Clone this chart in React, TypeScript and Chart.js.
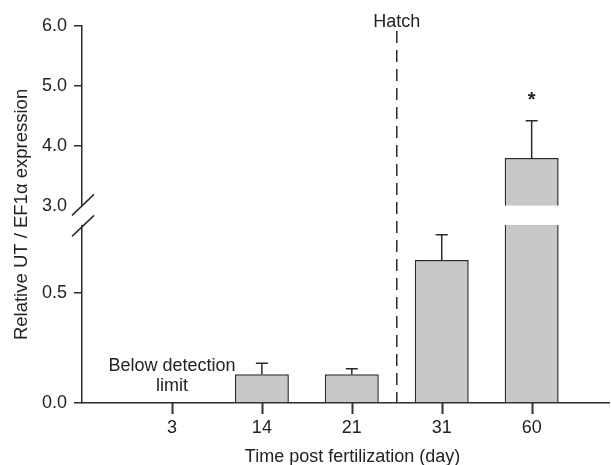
import React, { useEffect, useRef } from 'react';
import { Chart, registerables } from 'chart.js';

Chart.register(...registerables);

// ---- data ----
const days: string[] = ['3', '14', '21', '31', '60'];
const means: (number | null)[] = [null, 0.13, 0.13, 0.65, 3.8];
const errorsUp: (number | null)[] = [null, 0.05, 0.025, 0.115, 0.62];
const significant: boolean[] = [false, false, false, false, true];
const lowTicks: number[] = [0, 0.5];
const highTicks: number[] = [3, 4, 5, 6];
const lowRange: number[] = [0, 0.81];
const highRange: number[] = [2.683, 6];
const breakValue = 3.0;
const hatchBetween: number[] = [2, 3]; // between day 21 and day 31 (indices)
const belowLimitIndex = 0;

const FONT = '"Liberation Sans", Arial, Helvetica, sans-serif';
const INK = '#222222';
const LINE = '#2b2b2b';

const lowData = means
  .map((m, i) => (m == null ? null : { x: i + 1, y: Math.min(m, lowRange[1]) }))
  .filter((p) => p !== null);
const highData = means
  .map((m, i) => (m != null && m > lowRange[1] ? { x: i + 1, y: [breakValue, m] } : null))
  .filter((p) => p !== null);

const decor = {
  id: 'decor',
  afterDraw(chart: any) {
    const { ctx, chartArea, scales } = chart;
    const x = scales.x;
    const yL = scales.yLow;
    const yH = scales.yHigh;
    ctx.save();
    ctx.strokeStyle = LINE;
    ctx.fillStyle = INK;
    ctx.lineWidth = 1.5;

    // x tick marks
    const axisY = x.top;
    ctx.beginPath();
    for (let i = 0; i < days.length; i++) {
      const px = Math.round(x.getPixelForValue(i + 1)) + 0.5;
      ctx.moveTo(px, axisY);
      ctx.lineTo(px, axisY + 11);
    }
    ctx.lineWidth = 2;
    ctx.strokeStyle = '#333333';
    ctx.stroke();
    ctx.lineWidth = 1.5;
    ctx.strokeStyle = LINE;

    // error bars + significance
    means.forEach((m, i) => {
      if (m == null) return;
      const top = m + (errorsUp[i] || 0);
      const s = m > lowRange[1] ? yH : yL;
      const px = x.getPixelForValue(i + 1);
      const y0 = s.getPixelForValue(m);
      const y1 = s.getPixelForValue(top);
      ctx.beginPath();
      ctx.moveTo(px, y0);
      ctx.lineTo(px, y1);
      ctx.moveTo(px - 6, y1);
      ctx.lineTo(px + 6, y1);
      ctx.stroke();
      if (significant[i]) {
        ctx.font = `bold 20px ${FONT}`;
        ctx.textAlign = 'center';
        ctx.textBaseline = 'middle';
        ctx.fillStyle = INK;
        ctx.fillText('*', px, y1 - 20);
      }
    });

    // axis break
    const ax = chartArea.left;
    const yTop = yH.getPixelForValue(breakValue);
    const yBot = yL.top;
    ctx.fillStyle = '#ffffff';
    ctx.fillRect(ax - 3, yTop, 6, yBot - yTop);
    ctx.beginPath();
    [yTop - 1, yBot + 1].forEach((yy) => {
      ctx.moveTo(ax - 10, yy + 10.5);
      ctx.lineTo(ax + 12, yy - 10.5);
    });
    ctx.stroke();

    // hatch line
    const hx = x.getPixelForValue((hatchBetween[0] + hatchBetween[1]) / 2 + 1);
    ctx.setLineDash([12, 7]);
    ctx.beginPath();
    ctx.moveTo(hx, chartArea.top + 5);
    ctx.lineTo(hx, chartArea.bottom);
    ctx.stroke();
    ctx.setLineDash([]);

    ctx.fillStyle = INK;
    ctx.font = `18px ${FONT}`;
    ctx.textAlign = 'center';
    ctx.textBaseline = 'middle';
    ctx.fillText('Hatch', hx, chartArea.top - 4);

    // below detection limit
    const bx = x.getPixelForValue(belowLimitIndex + 1);
    ctx.fillText('Below detection', bx, chartArea.bottom - 37);
    ctx.fillText('limit', bx, chartArea.bottom - 17);

    // axis titles
    ctx.fillText('Time post fertilization (day)', (chartArea.left + chartArea.right) / 2 + 7, 457);
    ctx.save();
    ctx.font = `18.5px ${FONT}`;
    ctx.translate(22, (chartArea.top + chartArea.bottom) / 2);
    ctx.rotate(-Math.PI / 2);
    ctx.fillText('Relative UT / EF1\u03B1 expression', 0, 0);
    ctx.restore();

    ctx.restore();
  },
};

export default function App() {
  const ref = useRef<HTMLCanvasElement | null>(null);
  useEffect(() => {
    if (!ref.current) return;
    Chart.defaults.font.family = FONT;
    Chart.defaults.color = INK;
    const tickFont = { size: 18, family: FONT };
    const chart = new Chart(ref.current, {
      type: 'bar',
      data: {
        datasets: [
          {
            data: lowData as any,
            yAxisID: 'yLow',
            backgroundColor: '#c8c8c8',
            borderColor: LINE,
            borderWidth: (c: any) =>
              c.raw && means[c.raw.x - 1]! > lowRange[1]
                ? { left: 1.5, right: 1.5, top: 0, bottom: 0 }
                : 1.5,
            grouped: false,
            categoryPercentage: 1,
            barPercentage: 0.6,
          } as any,
          {
            data: highData as any,
            yAxisID: 'yHigh',
            backgroundColor: '#c8c8c8',
            borderColor: LINE,
            borderWidth: 1.5,
            grouped: false,
            categoryPercentage: 1,
            barPercentage: 0.6,
          } as any,
        ],
      },
      options: {
        animation: false,
        responsive: false,
        maintainAspectRatio: false,
        layout: { padding: { left: 35, right: 2, top: 26, bottom: 22.5 } },
        plugins: { legend: { display: false }, tooltip: { enabled: false } },
        scales: {
          x: {
            type: 'linear',
            min: 0,
            max: 5.86,
            offset: false,
            afterBuildTicks: (s: any) => {
              s.ticks = days.map((_, i) => ({ value: i + 1 }));
            },
            ticks: {
              font: tickFont,
              color: INK,
              padding: 4,
              maxRotation: 0,
              callback: (v: any) => days[Number(v) - 1] ?? '',
            },
            grid: { display: false, offset: false, drawOnChartArea: false, drawTicks: true, tickLength: 10 },
            border: { display: true, color: LINE, width: 1.5 },
          },
          yLow: {
            type: 'linear',
            position: 'left',
            stack: 'y',
            stackWeight: (lowRange[1] - lowRange[0]) * 220,
            min: lowRange[0],
            max: lowRange[1],
            afterBuildTicks: (s: any) => {
              s.ticks = lowTicks.map((v) => ({ value: v }));
            },
            ticks: { font: tickFont, color: INK, padding: 7, callback: (v: any) => Number(v).toFixed(1) },
            grid: { drawOnChartArea: false, drawTicks: true, tickLength: 8, color: LINE, lineWidth: 1.5 },
            border: { display: true, color: LINE, width: 1.5 },
          },
          yHigh: {
            type: 'linear',
            position: 'left',
            stack: 'y',
            stackWeight: (highRange[1] - highRange[0]) * 60,
            min: highRange[0],
            max: highRange[1],
            afterBuildTicks: (s: any) => {
              s.ticks = highTicks.map((v) => ({ value: v }));
            },
            ticks: { font: tickFont, color: INK, padding: 7, callback: (v: any) => Number(v).toFixed(1) },
            grid: {
              drawOnChartArea: false,
              drawTicks: true,
              tickLength: 8,
              color: (c: any) => (c.tick && c.tick.value === breakValue ? 'rgba(0,0,0,0)' : LINE),
              lineWidth: 1.5,
            },
            border: { display: true, color: LINE, width: 1.5 },
          },
        },
      } as any,
      plugins: [decor],
    });
    return () => chart.destroy();
  }, []);
  return (
    <div style={{ position: 'fixed', left: 0, top: 0, width: 611, height: 465, background: '#fff' }}>
      <canvas ref={ref} width={611} height={465} style={{ width: 611, height: 465 }} />
    </div>
  );
}
